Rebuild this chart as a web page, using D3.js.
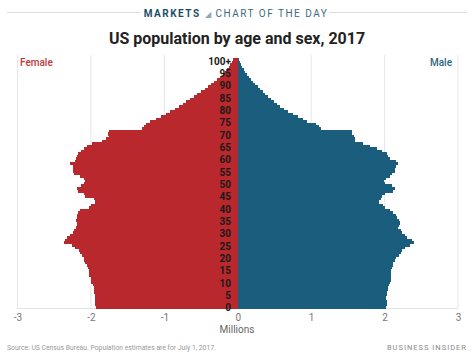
<!DOCTYPE html>
<html><head><meta charset="utf-8">
<script src="https://cdn.jsdelivr.net/npm/d3@7"></script>
<style>
html,body{margin:0;padding:0;background:#fff;}
svg{display:block;font-family:Roboto,"Open Sans",sans-serif;}
</style></head>
<body>
<script>
// ages 0..100 (100 = "100+")
const ages = d3.range(0, 101);
const female = [1.93,1.94,1.94,1.94,1.94,1.95,1.96,1.96,1.96,1.97,
2.0,2.0,2.0,2.02,2.03,2.03,2.04,2.05,2.08,2.1,
2.1,2.12,2.15,2.16,2.21,2.26,2.36,2.35,2.33,2.29,
2.24,2.23,2.2,2.19,2.19,2.2,2.19,2.19,2.17,2.15,
2.02,2.0,1.94,1.94,1.96,2.08,2.1,2.18,2.19,2.13,
2.1,2.08,2.1,2.15,2.23,2.24,2.24,2.25,2.29,2.22,
2.2,2.19,2.18,2.14,2.1,2.05,1.98,1.85,1.8,1.76,
1.77,1.75,1.3,1.28,1.25,1.19,1.12,1.05,0.98,0.92,
0.86,0.8,0.75,0.7,0.65,0.6,0.55,0.5,0.45,0.4,
0.36,0.32,0.28,0.24,0.2,0.17,0.14,0.12,0.1,0.08,0.06];
const male = [2.02,2.03,2.03,2.02,2.02,2.03,2.03,2.05,2.05,2.06,
2.08,2.09,2.09,2.09,2.09,2.09,2.1,2.11,2.12,2.14,
2.16,2.19,2.22,2.24,2.28,2.34,2.4,2.38,2.31,2.28,
2.24,2.22,2.18,2.2,2.21,2.2,2.17,2.15,2.12,2.08,
2.0,1.98,1.92,1.92,1.95,1.96,2.0,2.12,2.14,2.1,
2.0,1.99,2.02,2.08,2.1,2.14,2.14,2.15,2.18,2.15,
2.07,2.05,2.03,1.97,1.9,1.8,1.7,1.6,1.6,1.58,
1.56,1.55,1.13,1.1,1.06,0.95,0.89,0.82,0.75,0.68,
0.63,0.58,0.53,0.49,0.45,0.41,0.37,0.34,0.3,0.27,
0.24,0.21,0.18,0.15,0.12,0.1,0.08,0.06,0.05,0.03,0.02];
const xTicks = [-3,-2,-1,0,1,2,3];
const ageLabelAges = d3.range(0, 101, 5);

const W = 474, H = 355;
const red = "#b8282c", blue = "#1a5d7c";
const svg = d3.select("body").append("svg").attr("width", W).attr("height", H);

const x = d3.scaleLinear().domain([-3, 3]).range([17.5, 458]);
const y = d3.scaleBand().domain(ages.slice().reverse()).range([58.3, 307.7]).paddingInner(0);

// header
svg.append("line").attr("x1", 7).attr("x2", 467).attr("y1", 12.5).attr("y2", 12.5)
  .attr("stroke", "#dcdcdc").attr("stroke-width", 1);
const hdr = svg.append("text").attr("x", 236).attr("y", 16.5).attr("text-anchor", "middle")
  .attr("font-size", 10).style("letter-spacing", "1.5px");
hdr.append("tspan").attr("font-weight", "bold").attr("fill", "#1d4f69").text("MARKETS ");
hdr.append("tspan").attr("fill", "#8fa8b5").attr("font-size", 8).text("◢ ");
hdr.append("tspan").attr("fill", "#3d6a80").text("CHART OF THE DAY");
const bb = hdr.node().getBBox();
svg.insert("rect", "text").attr("x", bb.x - 3).attr("y", 6).attr("width", bb.width + 4).attr("height", 14).attr("fill", "#fff");

// title
svg.append("text").attr("x", 237).attr("y", 44).attr("text-anchor", "middle")
  .attr("font-size", 16).attr("font-weight", "bold").attr("fill", "#222")
  .text("US population by age and sex, 2017");

// gridlines
svg.append("g").selectAll("line").data(xTicks.filter(d => d !== 0)).join("line")
  .attr("x1", d => x(d)).attr("x2", d => x(d)).attr("y1", 55).attr("y2", 308)
  .attr("stroke", "#e6e6e6").attr("stroke-width", 1);
svg.append("line").attr("x1", x(-3)).attr("x2", x(3)).attr("y1", 308.5).attr("y2", 308.5)
  .attr("stroke", "#e2e2e2");

// bars
const gb = svg.append("g").attr("shape-rendering", "crispEdges");
gb.append("g").selectAll("rect").data(ages).join("rect")
  .attr("x", d => x(-female[d])).attr("width", d => x(0) - x(-female[d]))
  .attr("y", d => y(d)).attr("height", y.bandwidth() + 1).attr("fill", red);
gb.append("g").selectAll("rect").data(ages).join("rect")
  .attr("x", x(0)).attr("width", d => x(male[d]) - x(0))
  .attr("y", d => y(d)).attr("height", y.bandwidth() + 1).attr("fill", blue);

// age labels
svg.append("g").selectAll("text").data(ageLabelAges).join("text")
  .attr("x", 231).attr("y", d => y(d) + y.bandwidth() / 2 + 1.5).attr("dy", "0.35em")
  .attr("text-anchor", "end").attr("font-size", 10).attr("font-weight", "bold").attr("fill", "#1a1a1a")
  .text(d => d === 100 ? "100+" : d);

// legend labels
svg.append("text").attr("x", 20).attr("y", 65.5).attr("font-size", 10).attr("font-weight", 500)
  .attr("fill", "#c0363a").text("Female");
svg.append("text").attr("x", 452).attr("y", 65.5).attr("text-anchor", "end").attr("font-size", 10)
  .attr("font-weight", 500).attr("fill", "#2a6684").text("Male");

// x axis
const axis = svg.append("g").attr("transform", "translate(0,314)")
  .call(d3.axisBottom(x).tickValues(xTicks).tickFormat(d => String(d)).tickSize(0).tickPadding(0));
axis.select(".domain").remove();
axis.selectAll("text").attr("font-size", 10).attr("fill", "#777").attr("font-family", "Roboto, sans-serif");
svg.append("text").attr("x", 237).attr("y", 333).attr("text-anchor", "middle")
  .attr("font-size", 10).attr("fill", "#666").text("Millions");

// footer
svg.append("text").attr("x", 7).attr("y", 350).attr("font-size", 6.8).attr("fill", "#999")
  .text("Source: US Census Bureau. Population estimates are for July 1, 2017.");
svg.append("text").attr("x", 467).attr("y", 350).attr("text-anchor", "end").attr("font-size", 7.5)
  .style("letter-spacing", "1px").attr("fill", "#8a8a8a").text("BUSINESS INSIDER");
</script>
</body></html>
